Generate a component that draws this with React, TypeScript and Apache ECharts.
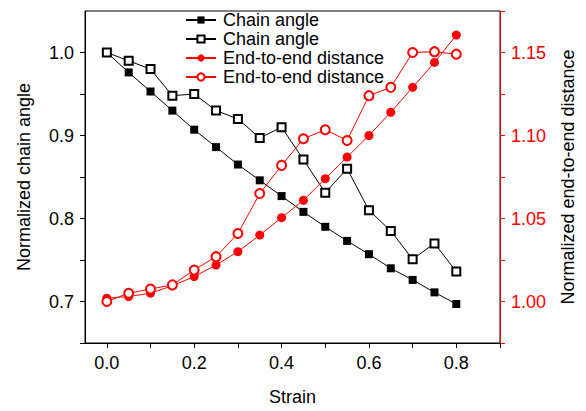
import React, { useEffect, useRef } from "react";
import * as echarts from "echarts";

const strain = [0, 0.05, 0.1, 0.15, 0.2, 0.25, 0.3, 0.35, 0.4, 0.45, 0.5, 0.55, 0.6, 0.65, 0.7, 0.75, 0.8];
const chainAngleFilled = [1.0, 0.976, 0.953, 0.93, 0.907, 0.886, 0.865, 0.846, 0.827, 0.808, 0.79, 0.773, 0.757, 0.74, 0.726, 0.711, 0.697];
const chainAngleOpen = [1.0, 0.99, 0.98, 0.948, 0.95, 0.93, 0.92, 0.897, 0.91, 0.871, 0.831, 0.86, 0.81, 0.785, 0.751, 0.77, 0.736];
const endDistFilled = [1.002, 1.003, 1.005, 1.0095, 1.015, 1.022, 1.03, 1.04, 1.0505, 1.061, 1.074, 1.087, 1.1, 1.114, 1.129, 1.144, 1.1605];
const endDistOpen = [1.0, 1.005, 1.0075, 1.01, 1.019, 1.027, 1.041, 1.065, 1.082, 1.098, 1.1035, 1.097, 1.124, 1.129, 1.15, 1.1505, 1.149];

const xTicks = [0, 0.1, 0.2, 0.3, 0.4, 0.5, 0.6, 0.7, 0.8, 0.9];
const xLabels = [0, 0.2, 0.4, 0.6, 0.8];
const leftTicks = [0.65, 0.7, 0.75, 0.8, 0.85, 0.9, 0.95, 1.0];
const leftLabels = [0.7, 0.8, 0.9, 1.0];
const rightTicks = [0.975, 1.0, 1.025, 1.05, 1.075, 1.1, 1.125, 1.15, 1.175];
const rightLabels = [1.0, 1.05, 1.1, 1.15];

const legendNames: Record<string, string> = {
  caF: "Chain angle",
  caO: "Chain angle",
  edF: "End-to-end distance",
  edO: "End-to-end distance",
};

const FONT = "'Liberation Sans', Arial, sans-serif";
const RED = "#ff0000";

export default function App() {
  const ref = useRef<HTMLDivElement>(null);
  useEffect(() => {
    if (!ref.current) return;
    const chart = echarts.init(ref.current, undefined, { renderer: "svg" });
    const pairs = (ys: number[]) => ys.map((y, i) => [strain[i], y]);
    chart.setOption({
      animation: false,
      backgroundColor: "#fff",
      textStyle: { fontFamily: FONT },
      grid: { left: 85, right: 86, top: 11, bottom: 64, show: true, borderColor: "#000", borderWidth: 1, backgroundColor: "transparent" },
      legend: {
        orient: "vertical",
        left: 185,
        top: 11,
        padding: 0,
        itemGap: 1,
        itemWidth: 30,
        itemHeight: 9,
        textStyle: { fontSize: 18, fontFamily: FONT, color: "#000", lineHeight: 18, padding: [0, 0, 0, 2] },
        data: ["caF", "caO", "edF", "edO"],
        formatter: (n: string) => legendNames[n] ?? n,
      },
      xAxis: {
        type: "value",
        min: -0.05,
        max: 0.9,
        name: "Strain",
        nameLocation: "middle",
        nameGap: 45,
        nameTextStyle: { fontSize: 18, fontFamily: FONT, color: "#000" },
        axisLine: { show: true, onZero: false, lineStyle: { color: "#000", width: 1 } },
        axisTick: { show: true, length: 5, customValues: xTicks, lineStyle: { color: "#000" } },
        axisLabel: { customValues: xLabels, fontSize: 18, fontFamily: FONT, color: "#000", margin: 11, formatter: (v: number) => v.toFixed(1) },
        splitLine: { show: false },
      },
      yAxis: [
        {
          type: "value",
          min: 0.65,
          max: 1.05,
          position: "left",
          name: "Normalized chain angle",
          nameLocation: "middle",
          nameRotate: 90,
          nameGap: 52,
          nameTextStyle: { fontSize: 18, fontFamily: FONT, color: "#000" },
          axisLine: { show: true, onZero: false, lineStyle: { color: "#000", width: 1 } },
          axisTick: { show: true, length: 5, customValues: leftTicks, lineStyle: { color: "#000" } },
          axisLabel: { customValues: leftLabels, fontSize: 18, fontFamily: FONT, color: "#000", margin: 11, formatter: (v: number) => v.toFixed(1) },
          splitLine: { show: false },
        },
        {
          type: "value",
          min: 0.975,
          max: 1.175,
          position: "right",
          name: "Normalized end-to-end distance",
          nameLocation: "middle",
          nameRotate: 90,
          nameGap: 59,
          nameTextStyle: { fontSize: 18, fontFamily: FONT, color: "#000" },
          axisLine: { show: true, onZero: false, lineStyle: { color: RED, width: 1 } },
          axisTick: { show: true, length: 5, customValues: rightTicks, lineStyle: { color: RED } },
          axisLabel: { customValues: rightLabels, fontSize: 18, fontFamily: FONT, color: RED, margin: 11, formatter: (v: number) => v.toFixed(2) },
          splitLine: { show: false },
        },
      ],
      series: [
        {
          name: "caF",
          type: "line",
          yAxisIndex: 0,
          data: pairs(chainAngleFilled),
          symbol: "rect",
          symbolSize: 8,
          lineStyle: { color: "#000", width: 1 },
          itemStyle: { color: "#000" },
        },
        {
          name: "caO",
          type: "line",
          yAxisIndex: 0,
          data: pairs(chainAngleOpen),
          symbol: "emptyRect",
          symbolSize: 8,
          lineStyle: { color: "#000", width: 1 },
          itemStyle: { color: "#000", borderColor: "#000", borderWidth: 1.2 },
        },
        {
          name: "edF",
          type: "line",
          yAxisIndex: 1,
          data: pairs(endDistFilled),
          symbol: "circle",
          symbolSize: 9,
          lineStyle: { color: RED, width: 1 },
          itemStyle: { color: RED },
        },
        {
          name: "edO",
          type: "line",
          yAxisIndex: 1,
          data: pairs(endDistOpen),
          symbol: "emptyCircle",
          symbolSize: 9,
          lineStyle: { color: RED, width: 1 },
          itemStyle: { color: RED, borderColor: RED, borderWidth: 1.2 },
        },
      ],
    });
    return () => chart.dispose();
  }, []);
  return <div ref={ref} style={{ position: "fixed", left: 0, top: 0, width: 586, height: 411 }} />;
}
